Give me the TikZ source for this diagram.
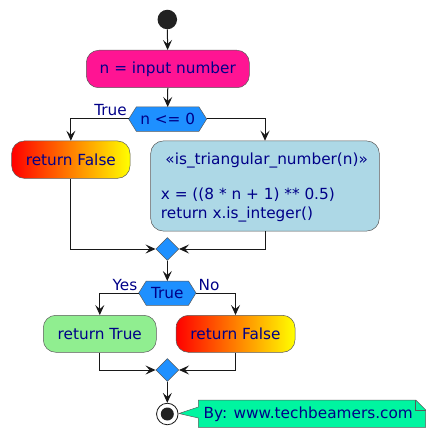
\documentclass[tikz,border=0pt]{standalone}
\usepackage{fontspec}
\setmainfont{DejaVu Sans}
\usetikzlibrary{arrows.meta,shapes.geometric}
\definecolor{txt}{HTML}{000088}
\definecolor{ln}{HTML}{181818}
\definecolor{bd}{HTML}{5A5A5A}
\definecolor{dpink}{HTML}{FF1493}
\definecolor{dblue}{HTML}{1E90FF}
\definecolor{lblue}{HTML}{ADD8E6}
\definecolor{lgreen}{HTML}{90EE90}
\definecolor{notec}{HTML}{00F5A0}
\definecolor{startc}{HTML}{222222}
\tikzset{
  lab/.style={font=\fontsize{15.3}{18}\selectfont, text=txt},
  act/.style={lab, draw=bd, line width=0.5pt, rounded corners=12.5pt, inner sep=0pt, align=center},
  hexa/.style={fill=dblue, draw=bd, line width=0.5pt},
  merge/.style={diamond, fill=dblue, draw=bd, line width=0.5pt, minimum width=23pt, minimum height=23pt, inner sep=0pt},
  conn/.style={draw=ln, line width=1pt},
  arr/.style={conn, -{Stealth[length=10pt,width=9pt,inset=4pt]}},
  grad/.style={left color=red, right color=yellow}
}
\begin{document}
\begin{tikzpicture}[x=1pt,y=-1pt]
\useasboundingbox (0,0) rectangle (436,438);
% start
\node[circle, fill=startc, minimum size=19.5pt, inner sep=0pt] (start) at (167.3,19.5) {};
% first action
\node[act, fill=dpink, minimum width=163pt, minimum height=37.5pt] (inp) at (167.8,69) {n = input number};
% hexagon 1
\coordinate (h1w) at (128.7,119);
\coordinate (h1e) at (206.7,119);
\coordinate (h1n) at (167.7,107);
\draw[hexa] (h1w) -- (136.3,107) -- (199,107) -- (h1e) -- (199,131.3) -- (136.3,131.3) -- cycle;
\node[lab, inner sep=0pt] (h1) at (167.7,119) {n <= 0};
\node[lab, inner sep=0pt, anchor=base east] (t1) at (127,116) {True};
% left and right actions
\node[act, grad, minimum width=118.3pt, minimum height=37.3pt] (rf1) at (70.85,159.65) {return False};
\node[act, fill=lblue, minimum width=228.6pt, minimum height=90pt] (blue) at (265,186) {};
\node[lab, inner sep=0pt, anchor=base] (bt1) at (266.7,165) {«is\_triangular\_number(n)»};
\node[lab, inner sep=0pt, anchor=base west, align=left] (bt2) at (160.7,200) {x = ((8 * n + 1) ** 0.5)};
\node[lab, inner sep=0pt, anchor=base west, align=left] (bt3) at (160.7,218) {return x.is\_integer()};
% merge 1
\node[merge] (m1) at (167.3,249) {};
% hexagon 2
\coordinate (h2w) at (138.7,293);
\coordinate (h2e) at (196,293);
\coordinate (h2n) at (167.3,281);
\draw[hexa] (h2w) -- (146.2,281) -- (188.5,281) -- (h2e) -- (188.5,305.3) -- (146.2,305.3) -- cycle;
\node[lab, inner sep=0pt] (h2) at (167.3,293) {True};
\node[lab, inner sep=0pt, anchor=base east] (yes) at (137.5,290) {Yes};
\node[lab, inner sep=0pt, anchor=base west] (no) at (198.5,290) {No};
% actions 2
\node[act, fill=lgreen, minimum width=113pt, minimum height=37pt] (rt) at (99.8,333.8) {return True};
\node[act, grad, minimum width=119pt, minimum height=37pt] (rf2) at (235.5,333.8) {return False};
% merge 2
\node[merge] (m2) at (167.3,370) {};
% end
\node[circle, fill=white, draw=ln, line width=0.8pt, minimum size=21.5pt, inner sep=0pt] (stop) at (167.3,414) {};
\node[circle, fill=startc, minimum size=13pt, inner sep=0pt] (stopin) at (167.3,414) {};
% note
\coordinate (nA) at (198.3,400);
\coordinate (nB) at (415.7,400);
\coordinate (nC) at (425.7,410);
\coordinate (nD) at (425.7,427.3);
\coordinate (nE) at (198.3,427.3);
\coordinate (tip) at (179,413.5);
\draw[fill=notec, draw=bd, line width=0.5pt] (nA) -- (nB) -- (nC) -- (nD) -- (nE) -- (198.3,418) -- (tip) -- (198.3,407) -- cycle;
\draw[draw=bd, line width=0.5pt] (nB) -- (415.7,410) -- (nC);
\node[lab, inner sep=0pt] (note) at (308.2,414) {By: www.techbeamers.com};
% connectors
\draw[arr] (start) -- (inp);
\draw[arr] (inp) -- (h1n);
\draw[arr] (h1w) -| (rf1.north);
\draw[arr] (h1e) -| (blue.north);
\draw[arr] (rf1.south) |- (m1.west);
\draw[arr] (blue.south) |- (m1.east);
\draw[arr] (m1.south) -- (h2n);
\draw[arr] (h2w) -| (rt.north);
\draw[arr] (h2e) -| (rf2.north);
\draw[arr] (rt.south) |- (m2.west);
\draw[arr] (rf2.south) |- (m2.east);
\draw[arr] (m2.south) -- (stop.north);
\end{tikzpicture}
\end{document}
